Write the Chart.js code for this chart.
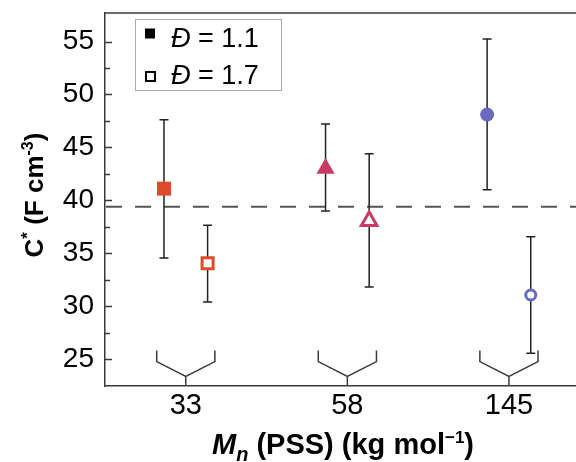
<!DOCTYPE html>
<html>
<head>
<meta charset="utf-8">
<script src="https://cdn.jsdelivr.net/npm/chart.js@4"></script>
<style>
  html, body { margin: 0; padding: 0; background: #fff; overflow: hidden; }
  canvas { display: block; }
</style>
</head>
<body>
<canvas id="chart" width="576" height="462" style="width:576px;height:462px"></canvas>
<script>
// Data
const categories = ['33', '58', '145'];          // Mn (PSS), kg/mol
const mean11 = [41.1, 43.0, 48.1];               // D = 1.1
const low11 = [34.55, 39.0, 41.0];
const high11 = [47.6, 47.2, 55.25];
const mean17 = [34.05, 38.05, 31.05];            // D = 1.7
const low17 = [30.4, 31.8, 25.55];
const high17 = [37.65, 44.4, 36.55];
const refLine = 39.4;
const yTicks = [25, 30, 35, 40, 45, 50, 55];

const colors = ['#dc4b2b', '#c93b65', '#6a6abf'];
const shapes = ['rect', 'triangle', 'circle'];
const OFFSET = 0.135;   // horizontal shift of the two series around each category
const X_MIN = -0.5, X_MAX = 2.415;
const Y_MIN = 22.45, Y_MAX = 57.7;
const FONT = '"Liberation Sans", Arial, sans-serif';
const AXIS = '#3a3a3a';

function toPoints(means, shift) {
  return means.map((v, i) => ({ x: i + shift, y: v }));
}

// Draw a string made of styled parts, e.g. superscripts
function richText(ctx, parts, x, y, align) {
  let total = 0;
  parts.forEach(p => { ctx.font = p.font; total += ctx.measureText(p.text).width; });
  let cx = align === 'center' ? x - total / 2 : x;
  parts.forEach(p => {
    ctx.font = p.font;
    ctx.fillText(p.text, cx, y + (p.dy || 0));
    cx += ctx.measureText(p.text).width;
  });
}

const decor = {
  id: 'decor',
  beforeDatasetsDraw(chart) {
    const { ctx, chartArea, scales: { x, y } } = chart;
    ctx.save();

    // dashed reference line
    ctx.strokeStyle = '#555';
    ctx.lineWidth = 2;
    ctx.setLineDash([16, 13]);
    ctx.beginPath();
    ctx.moveTo(chartArea.left + 1, y.getPixelForValue(refLine));
    ctx.lineTo(chartArea.right, y.getPixelForValue(refLine));
    ctx.stroke();
    ctx.setLineDash([]);

    // error bars
    ctx.strokeStyle = '#222';
    ctx.lineWidth = 1.5;
    const bars = [[low11, high11, -OFFSET], [low17, high17, OFFSET]];
    bars.forEach(([lo, hi, shift]) => {
      lo.forEach((l, i) => {
        const px = x.getPixelForValue(i + shift);
        const y1 = y.getPixelForValue(l);
        const y2 = y.getPixelForValue(hi[i]);
        ctx.beginPath();
        ctx.moveTo(px, y1); ctx.lineTo(px, y2);
        ctx.moveTo(px - 4.5, y1); ctx.lineTo(px + 4.5, y1);
        ctx.moveTo(px - 4.5, y2); ctx.lineTo(px + 4.5, y2);
        ctx.stroke();
      });
    });

    // grouping brackets above the x axis
    ctx.strokeStyle = AXIS;
    ctx.lineWidth = 1.5;
    categories.forEach((c, i) => {
      const xl = x.getPixelForValue(i - 0.18);
      const xr = x.getPixelForValue(i + 0.18);
      const xc = x.getPixelForValue(i);
      const yTop = y.getPixelForValue(25.8);
      const yBend = y.getPixelForValue(24.75);
      const yApex = y.getPixelForValue(23.35);
      ctx.beginPath();
      ctx.moveTo(xl, yTop); ctx.lineTo(xl, yBend); ctx.lineTo(xc, yApex);
      ctx.lineTo(xr, yBend); ctx.lineTo(xr, yTop);
      ctx.moveTo(xc, yApex); ctx.lineTo(xc, chartArea.bottom);
      ctx.stroke();
    });

    // inside ticks on y axis (major + minor)
    ctx.strokeStyle = AXIS;
    ctx.lineWidth = 1.5;
    for (let v = 25; v <= 55; v += 2.5) {
      const py = Math.round(y.getPixelForValue(v)) + 0.5;
      const len = v % 5 === 0 ? 7 : 5;
      ctx.beginPath();
      ctx.moveTo(chartArea.left, py); ctx.lineTo(chartArea.left + len, py);
      ctx.stroke();
    }

    // top frame line
    ctx.beginPath();
    ctx.moveTo(chartArea.left, chartArea.top);
    ctx.lineTo(chartArea.right, chartArea.top);
    ctx.stroke();
    ctx.restore();
  },
  afterDraw(chart) {
    const { ctx } = chart;
    ctx.save();
    ctx.fillStyle = '#000';
    ctx.textBaseline = 'alphabetic';

    // legend
    ctx.strokeStyle = '#aaa';
    ctx.lineWidth = 1;
    ctx.strokeRect(135.5, 19.5, 146, 71);
    ctx.fillRect(145, 28.5, 10, 10);
    ctx.strokeStyle = '#000';
    ctx.lineWidth = 2;
    ctx.strokeRect(146, 72, 9, 9);
    const legendRows = [['1.1', 47], ['1.7', 84]];
    legendRows.forEach(([d, by]) => {
      richText(ctx, [
        { text: 'Đ', font: `italic 27px ${FONT}` },
        { text: ' = ' + d, font: `27px ${FONT}` }
      ], 171, by, 'left');
    });

    // x axis title
    richText(ctx, [
      { text: 'M', font: `italic bold 29px ${FONT}` },
      { text: 'n', font: `italic bold 20px ${FONT}`, dy: 7 },
      { text: ' (PSS) (kg mol', font: `bold 29px ${FONT}` },
      { text: '−1', font: `bold 17px ${FONT}`, dy: -11 },
      { text: ')', font: `bold 29px ${FONT}` }
    ], 343, 454, 'center');

    // y axis title
    ctx.translate(43, 195);
    ctx.rotate(-Math.PI / 2);
    richText(ctx, [
      { text: 'C', font: `bold 26px ${FONT}` },
      { text: '*', font: `bold 17px ${FONT}`, dy: -10 },
      { text: ' (F cm', font: `bold 26px ${FONT}` },
      { text: '-3', font: `bold 16px ${FONT}`, dy: -10 },
      { text: ')', font: `bold 26px ${FONT}` }
    ], 0, 0, 'center');
    ctx.restore();
  }
};

new Chart(document.getElementById('chart'), {
  type: 'scatter',
  data: {
    datasets: [
      {
        label: 'Đ = 1.1',
        data: toPoints(mean11, -OFFSET),
        pointStyle: shapes,
        pointRadius: [9.9, 10.5, 7],
        backgroundColor: colors,
        borderColor: colors,
        borderWidth: 0
      },
      {
        label: 'Đ = 1.7',
        data: toPoints(mean17, OFFSET),
        pointStyle: shapes,
        pointRadius: [7.8, 9, 5],
        backgroundColor: '#fff',
        borderColor: colors,
        borderWidth: 3
      }
    ]
  },
  options: {
    responsive: false,
    devicePixelRatio: 1,
    animation: false,
    layout: { autoPadding: false, padding: { top: 13, left: 0, right: 0, bottom: 0 } },
    plugins: { legend: { display: false }, tooltip: { enabled: false } },
    scales: {
      x: {
        type: 'linear',
        bounds: 'data',
        min: X_MIN,
        max: X_MAX,
        afterBuildTicks: s => {
          s.ticks = categories.map((c, i) => ({ value: i }));
          s.min = X_MIN; s.max = X_MAX;
        },
        afterFit: s => { s.height = 76; s.paddingLeft = 0; s.paddingRight = 0; },
        grid: { display: false, drawTicks: false },
        border: { display: true, color: AXIS, width: 1.5 },
        ticks: {
          padding: 3,
          color: '#000',
          font: { family: FONT, size: 29 },
          callback: v => categories[v]
        }
      },
      y: {
        bounds: 'data',
        min: Y_MIN,
        max: Y_MAX,
        afterBuildTicks: s => {
          s.ticks = yTicks.map(v => ({ value: v }));
          s.min = Y_MIN; s.max = Y_MAX;
        },
        afterFit: s => { s.width = 105; s.paddingTop = 0; s.paddingBottom = 0; },
        grid: { display: false, drawTicks: false },
        border: { display: true, color: AXIS, width: 1.5 },
        ticks: {
          padding: 11,
          color: '#000',
          font: { family: FONT, size: 28 }
        }
      }
    }
  },
  plugins: [decor]
});
</script>
</body>
</html>
